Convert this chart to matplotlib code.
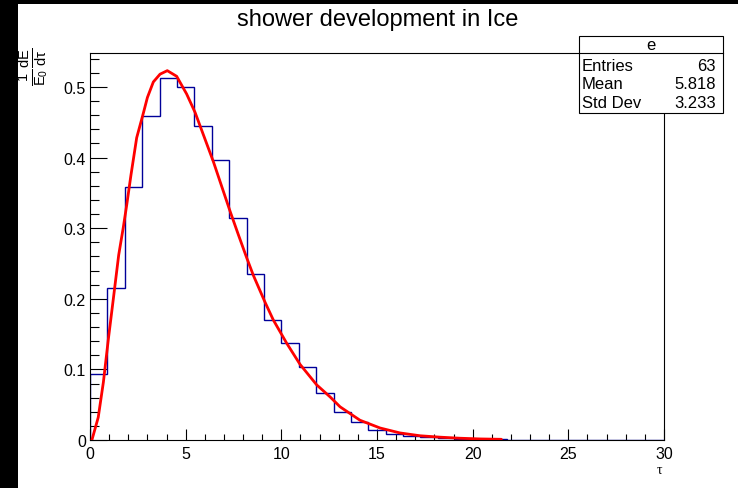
#Shower development profile: histogram and fitted curve

import numpy as np
import matplotlib.pyplot as plt
from matplotlib.patches import Rectangle

plt.rcParams['font.family'] = ['Liberation Sans', 'DejaVu Sans']
plt.rcParams['mathtext.fontset'] = 'custom'
plt.rcParams['mathtext.rm'] = 'Liberation Sans'
plt.rcParams['mathtext.it'] = 'Liberation Sans'
plt.rcParams['mathtext.default'] = 'regular'

# histogram (33 bins between 0 and 30)
tau_min = 0.
tau_max = 30.
nbins = 33
hist_values = [0.093, 0.215, 0.358, 0.459, 0.513, 0.500, 0.444, 0.396, 0.315,
               0.235, 0.170, 0.137, 0.103, 0.066, 0.039, 0.025, 0.014, 0.008,
               0.006, 0.004, 0.003, 0.002, 0.001, 0.001, 0., 0., 0., 0., 0.,
               0., 0., 0., 0.]

# fitted curve
fit_tau = [0.10, 0.43, 0.70, 0.96, 1.22, 1.50, 1.74, 1.92, 2.14, 2.44, 2.79,
           3.00, 3.31, 3.66, 4.04, 4.53, 5.05, 5.49, 6.45, 7.32, 7.75, 8.19,
           8.54, 9.15, 9.58, 10.28, 10.98, 11.85, 12.55, 13.07, 14.11, 15.16,
           16.2, 17.25, 18.3, 19.34, 20.4, 21.5]
fit_vals = [0.000, 0.032, 0.082, 0.143, 0.200, 0.262, 0.301, 0.333, 0.375,
            0.428, 0.463, 0.485, 0.507, 0.518, 0.523, 0.515, 0.490, 0.464,
            0.394, 0.324, 0.291, 0.258, 0.233, 0.195, 0.170, 0.137, 0.107,
            0.078, 0.061, 0.047, 0.028, 0.017, 0.010, 0.006, 0.004, 0.0025,
            0.0015, 0.001]

# stat box
stat_name = 'e'
stat_labels = ['Entries', 'Mean', 'Std Dev']
stat_values = ['63', '5.818', '3.233']

W, H = 738, 489
def fx(x):
    return x / W
def fy(y):
    return 1 - y / H

fig = plt.figure(figsize=(W/100, H/100), dpi=100, facecolor='black')
fig.patches.append(Rectangle((fx(18), 0), 1 - fx(18), fy(5), transform=fig.transFigure,
                             facecolor='white', edgecolor='none', zorder=-10))

ax = fig.add_axes([fx(90), fy(441), fx(664) - fx(90), fy(54) - fy(441)])

edges = np.linspace(tau_min, tau_max, nbins + 1)
ax.stairs(hist_values, edges, color='#000099', lw=1.0, zorder=2)
ax.plot(fit_tau, fit_vals, color='red', lw=2.0, zorder=3,
        solid_joinstyle='round', solid_capstyle='round')

ax.set_xlim(tau_min, tau_max)
ax.set_ylim(0, 0.548)
ax.set_xticks([0, 5, 10, 15, 20, 25, 30])
ax.set_xticks(np.arange(0, 31, 1), minor=True)
ax.set_yticks([0, 0.1, 0.2, 0.3, 0.4, 0.5])
ax.set_yticklabels(['0', '0.1', '0.2', '0.3', '0.4', '0.5'])
ax.set_yticks(np.arange(0, 0.548, 0.02), minor=True)
ax.tick_params(axis='x', which='major', direction='in', length=8, width=0.8,
               labelsize=11.5, pad=4, top=False)
ax.tick_params(axis='x', which='minor', direction='in', length=4, width=0.8, top=False)
ax.tick_params(axis='y', which='major', direction='in', length=12, width=0.8,
               labelsize=11.5, pad=3, right=False)
ax.tick_params(axis='y', which='minor', direction='in', length=6.5, width=0.8, right=False)
for s in ax.spines.values():
    s.set_linewidth(0.8)

fig.text(fx(378), fy(20), 'shower development in Ice', ha='center', va='center', fontsize=17)
fig.text(fx(34), fy(48), r'$\frac{1}{E_{0}}\frac{dE}{d\tau}$', rotation=90,
         ha='center', va='top', fontsize=15)
fig.text(fx(662), fy(471), 'τ', ha='right', va='center', fontsize=10,
         family=['Liberation Serif', 'DejaVu Serif'])

# stat box
bx0, bx1, by0, by1, bline = 579, 723, 37, 114, 54
fig.patches.append(Rectangle((fx(bx0), fy(by1)), fx(bx1) - fx(bx0), fy(by0) - fy(by1),
                             transform=fig.transFigure, facecolor='white',
                             edgecolor='black', lw=0.8, zorder=5))
fig.add_artist(plt.Line2D([fx(bx0), fx(bx1)], [fy(bline), fy(bline)],
                          transform=fig.transFigure, color='black', lw=0.8, zorder=6))
fig.text(fx((bx0 + bx1) / 2), fy(45.5), stat_name, ha='center', va='center',
         fontsize=12, zorder=7)
for i, (lab, val) in enumerate(zip(stat_labels, stat_values)):
    yy = fy(66.5 + i * 18.5)
    fig.text(fx(582), yy, lab, ha='left', va='center', fontsize=12, zorder=7)
    fig.text(fx(716), yy, val, ha='right', va='center', fontsize=12, zorder=7)

plt.savefig('out.png', dpi=100, facecolor=fig.get_facecolor())
plt.close()
